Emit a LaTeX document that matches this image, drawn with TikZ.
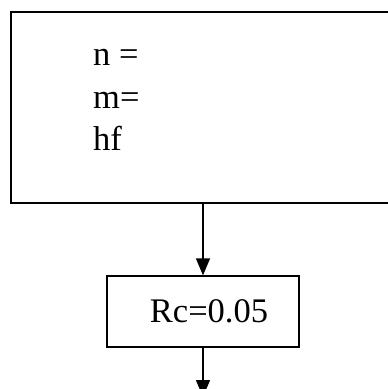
\documentclass[tikz,border=0pt]{standalone}
\usepackage{fontspec}
\setmainfont{Liberation Serif}
\usetikzlibrary{arrows.meta,positioning}

\begin{document}
\begin{tikzpicture}[
  x=1pt, y=-1pt,
  box/.style={draw, rectangle, line width=1.3pt, inner sep=0pt},
  txt/.style={font=\fontsize{34.5}{42.5}\selectfont, inner sep=0pt},
  arrow/.style={-{Triangle[length=17pt,width=14pt]}, line width=1.4pt}
]
\useasboundingbox (0,0) rectangle (388,389);
\clip (0,0) rectangle (388,389);
\node[box, minimum width=420pt, minimum height=191pt] (params) at (221,107.5) {};
% last line sits on the base anchor
\node[txt, anchor=base west, align=left] (paramtext) at (93,150.5) {n =\\m=\\hf};
\node[box, minimum width=192pt, minimum height=71pt, txt] (rc) at (203,311.5) {\hspace*{12pt}Rc=0.05};
\coordinate (next) at (203,397);
\draw[arrow] (params.south -| rc.north) -- (rc.north);
\draw[arrow] (rc.south) -- (next);
\end{tikzpicture}
\end{document}
